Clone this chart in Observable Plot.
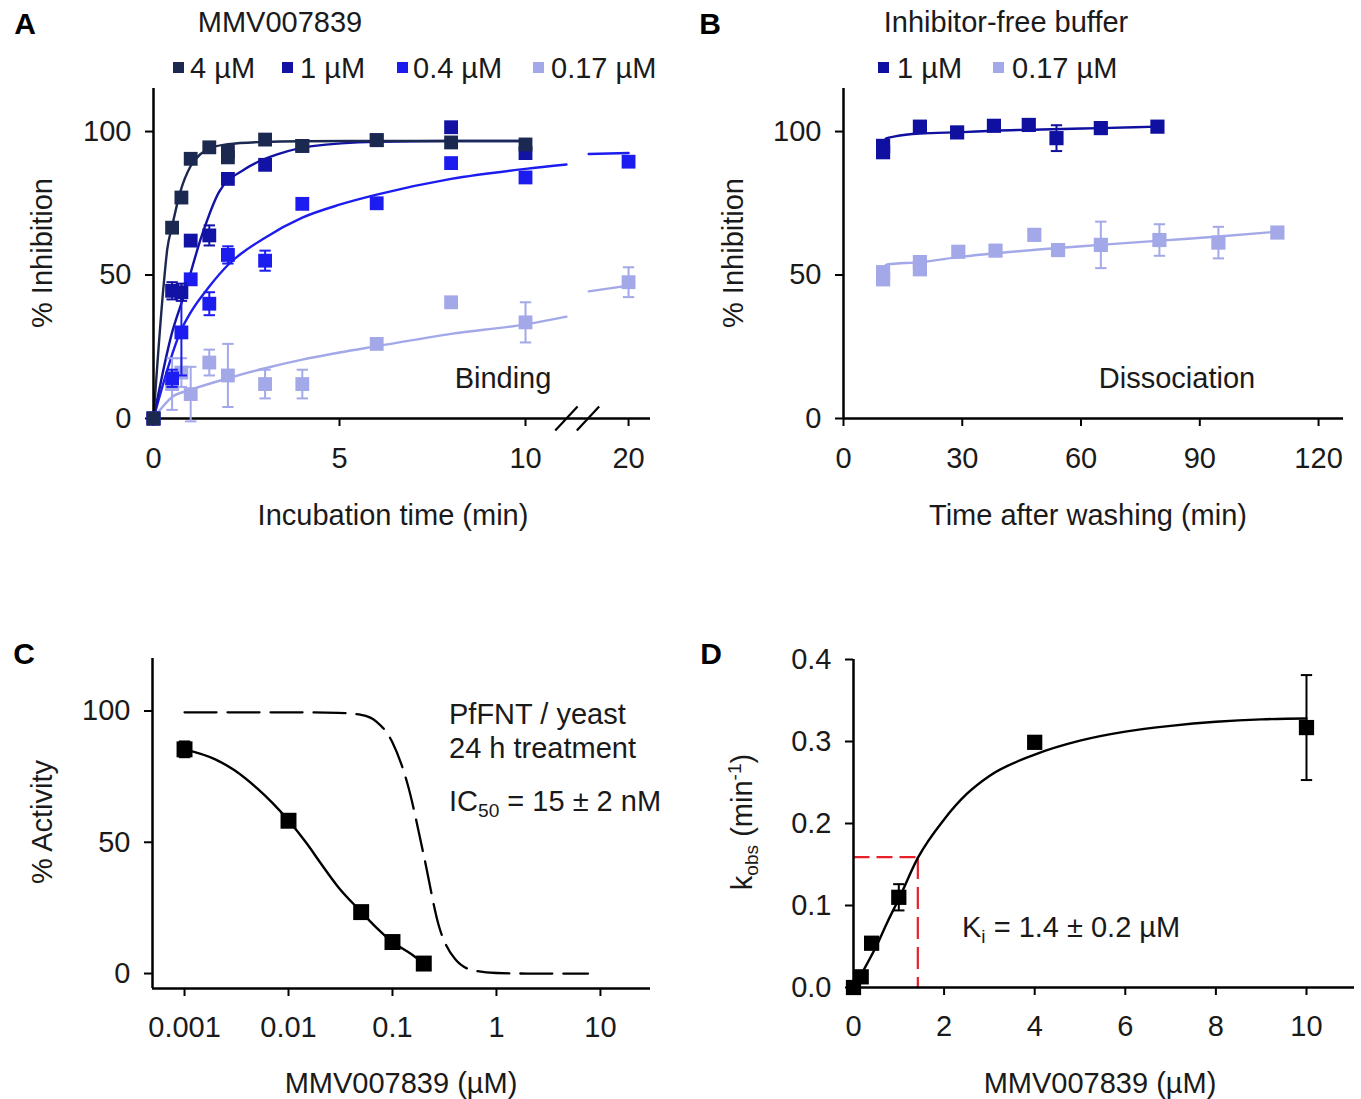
<!DOCTYPE html>
<html>
<head>
<meta charset="utf-8">
<script src="https://cdn.jsdelivr.net/npm/d3@7"></script>
<script src="https://cdn.jsdelivr.net/npm/@observablehq/plot@0.6"></script>
<style>
  body { margin: 0; background: #fff; }
  #page { position: relative; width: 1361px; height: 1099px; overflow: hidden;
          font-family: "Liberation Sans", Arial, sans-serif; color: #1a1a1a; background: #fff; }
  .panel { position: absolute; }
  .panel svg { overflow: visible; max-width: none; background: transparent; }
  .panel svg g[aria-label*="axis"] path, .panel svg g[aria-label*="axis"] line { stroke: #000; stroke-width: 2px; }
  .t, .tl { position: absolute; white-space: nowrap; font-size: 29px; line-height: 1; }
  .t { transform: translate(-50%, -50%); }
  .tl { transform: translate(0, -50%); }
  .rot { transform: translate(-50%, -50%) rotate(-90deg); }
  .letter { font-weight: bold; font-size: 30px; color: #000; }
  .sq { position: absolute; width: 11px; height: 11px; }
  sub, sup { font-size: 0.66em; line-height: 0; }
  sub { vertical-align: -0.32em; }
  sup { vertical-align: 0.55em; }
</style>
</head>
<body>
<div id="page"></div>
<script>
// ---------------- DATA ----------------
// Panel A: binding kinetics (time in min, % inhibition)
const seriesA = ["4 µM", "1 µM", "0.4 µM", "0.17 µM"];
const colorsA = ["#1b2850", "#1212a4", "#1c1cf0", "#a3a8e8"];

const tA4   = [0, 0.5, 0.75, 1, 1.5, 2, 2, 3, 4, 6, 8, 10];
const yA4   = [0, 66.5, 77, 90.5, 94.5, 93, 91, 97.2, 95, 97, 96.2, 95.5];
const eA4   = [0, 0, 0, 0, 0, 0, 0, 0, 0, 0, 0, 0];
const tA1   = [0, 0.5, 0.75, 1, 1.5, 2, 3, 4, 6, 8, 10];
const yA1   = [0, 44.5, 44, 62, 63.8, 83.5, 88.4, 95, 97, 101.5, 92.5];
const eA1   = [0, 3, 3, 0, 3.5, 0, 0, 0, 0, 0, 0];
const tA04  = [0, 0.5, 0.75, 1, 1.5, 2, 3, 4, 6, 8, 10, 20];
const yA04  = [0, 14, 30, 48.5, 40, 57, 55, 74.8, 75, 89, 84, 89.5];
const eA04  = [0, 3, 15, 0, 4, 3, 3.5, 0, 0, 0, 0, 0];
const tA017 = [0, 0.5, 0.75, 1, 1.5, 2, 3, 4, 6, 8, 10, 20];
const yA017 = [0, 12, 16, 8.5, 19.5, 15, 12, 12, 26, 40.5, 33.5, 47.5];
const eA017 = [0, 9, 5, 9.5, 4.5, 11, 5, 5, 0, 0, 7, 5.2];

// fitted curves (before and after the axis break)
const ctA4   = [0, 0.28, 0.37, 0.5, 0.72, 1, 1.25, 1.5, 2, 3, 4, 6, 10];
const cyA4   = [0, 47.5, 59, 67, 79, 88, 92, 94, 95.6, 96.4, 96.6, 96.7, 96.7];
const ctA1   = [0, 0.5, 0.82, 1.3, 1.76, 2.47, 3.37, 4.27, 6, 8, 10];
const cyA1   = [0, 30, 42.9, 63.8, 78.9, 87, 92.2, 94.9, 96.4, 96.7, 96.7];
const ctA04  = [0, 0.75, 1, 1.5, 2, 3, 4, 5, 6, 8, 10, 11.1];
const cyA04  = [0, 31, 37, 46, 53.5, 63, 70, 74.5, 78, 83.5, 87, 88.5];
const ctA04b = [17, 20];
const cyA04b = [92.2, 92.5];
const ctA017  = [0, 0.5, 1, 2, 3, 4, 5, 6, 8, 10, 11.1];
const cyA017  = [0, 7.5, 10, 14, 17.5, 20.5, 23, 25.2, 29.5, 32.8, 35.5];
const ctA017b = [17, 20];
const cyA017b = [44.3, 46.3];
const xTicksA = [0, 5, 10, 20];
const yTicksA = [0, 50, 100];

// Panel B: dissociation (time after washing in min, % inhibition)
const seriesB = ["1 µM", "0.17 µM"];
const colorsB = ["#1010a0", "#a3a8e8"];
const tB1   = [10, 10, 19.3, 28.7, 38, 46.8, 53.8, 65, 79.3];
const yB1   = [95, 92.8, 101.7, 99.7, 102, 102.3, 97.7, 101.2, 101.7];
const eB1   = [0, 0, 0, 0, 0, 0, 4.5, 0, 0];
const tB017 = [10, 10, 19.3, 19.3, 29, 38.4, 48.2, 54.2, 65, 79.8, 94.7, 109.6];
const yB017 = [51, 48.5, 54.5, 52, 58.1, 58.5, 64, 58.7, 60.5, 62.2, 61.3, 64.8];
const eB017 = [0, 0, 0, 0, 0, 0, 0, 0, 8.1, 5.5, 5.5, 0];
const ctB1   = [10, 10.8, 13, 19.3, 30, 38, 50, 65, 79.3];
const cyB1   = [95.5, 97.6, 98.3, 99.3, 99.8, 100.3, 100.7, 101.2, 101.7];
const ctB017 = [10, 11, 19.3, 30, 38.4, 50, 65, 80, 94.7, 109.6];
const cyB017 = [52.3, 53.7, 54.5, 56.4, 57.6, 59, 60.5, 62, 63.4, 65.1];
const xTicksB = [0, 30, 60, 90, 120];
const yTicksB = [0, 50, 100];

// Panel C: dose response (µM, % activity)
const xC    = [0.001, 0.01, 0.05, 0.1, 0.2];
const yC    = [85.4, 58.2, 23.4, 12, 3.8];
const eC    = [3, 0, 0, 0, 0];
const cxC   = [0.001, 0.002, 0.003, 0.005, 0.007, 0.01, 0.015, 0.02, 0.03, 0.05, 0.07, 0.1, 0.15, 0.2];
const cyC   = [85.4, 81.5, 77.5, 70.5, 65, 58.3, 49.5, 42.5, 33, 23.5, 17.5, 12, 7.5, 3.8];
const dxC   = [0.001, 0.01, 0.03, 0.05, 0.07, 0.1, 0.14, 0.2, 0.28, 0.4, 0.6, 1, 2, 7.6];
const dyC   = [99.5, 99.5, 99.3, 98.5, 96, 88, 72, 45, 18, 5.5, 1.2, 0.2, 0, 0];
const xTicksC = [0.001, 0.01, 0.1, 1, 10];
const yTicksC = [0, 50, 100];

// Panel D: kobs vs concentration
const xD    = [0, 0.17, 0.4, 1, 4, 10];
const yD    = [0, 0.013, 0.054, 0.110, 0.299, 0.317];
const eD    = [0, 0, 0, 0.016, 0, 0.064];
const cxD   = [0, 0.25, 0.5, 0.75, 1, 1.42, 2, 2.5, 3, 4, 5, 6, 7, 8, 9, 10];
const cyD   = [0, 0.024, 0.05, 0.08, 0.108, 0.158, 0.205, 0.236, 0.258, 0.284, 0.301, 0.312, 0.319, 0.324, 0.327, 0.328];
const kiD   = [1.42];
const halfD = [0.159];
const xTicksD = [0, 2, 4, 6, 8, 10];
const yTicksD = [0, 0.1, 0.2, 0.3, 0.4];

// ---------------- HELPERS ----------------
const FONT = '"Liberation Sans", Arial, sans-serif';
const baseStyle = { fontSize: "29px", fontFamily: FONT, color: "#1a1a1a", background: "transparent" };
const page = document.getElementById("page");

function rows(xs, ys, es) { return xs.map((x, i) => ({ x, y: ys[i], e: es ? es[i] : 0 })); }
const capSymbol = { draw(ctx, size) { const w = Math.sqrt(size); ctx.moveTo(-w, 0); ctx.lineTo(w, 0); } };

function errorMarks(data, xf, color, w) {
  const withErr = data.filter(d => d.e > 0);
  return [
    Plot.ruleX(withErr, { x: xf, y1: d => d.y - d.e, y2: d => d.y + d.e, stroke: color, strokeWidth: w }),
    Plot.dot(withErr, { x: xf, y: d => d.y - d.e, symbol: capSymbol, r: 3.2, stroke: color, strokeWidth: w, fill: "none" }),
    Plot.dot(withErr, { x: xf, y: d => d.y + d.e, symbol: capSymbol, r: 3.2, stroke: color, strokeWidth: w, fill: "none" })
  ];
}
function place(node, left, top) {
  const div = document.createElement("div");
  div.className = "panel";
  div.style.left = left + "px"; div.style.top = top + "px";
  div.appendChild(node); page.appendChild(div);
}
function text(html, x, y, cls) {
  const d = document.createElement("div");
  d.className = cls; d.innerHTML = html;
  d.style.left = x + "px"; d.style.top = y + "px";
  page.appendChild(d);
}
function square(x, y, color) {
  const d = document.createElement("div");
  d.className = "sq"; d.style.left = x + "px"; d.style.top = y + "px"; d.style.background = color;
  page.appendChild(d);
}

// ---------------- PANEL A ----------------
const posA = t => (t <= 12 ? t : 12.77 - (20 - t) * 0.357);
const xDomA = [0, 13.36], yDomA = [0, 115];
const breakPos = [11.1, 11.68];
const ptsA = [rows(tA4, yA4, eA4), rows(tA1, yA1, eA1), rows(tA04, yA04, eA04), rows(tA017, yA017, eA017)];
const curvesA = [
  [rows(ctA4, cyA4)], [rows(ctA1, cyA1)],
  [rows(ctA04, cyA04), rows(ctA04b, cyA04b)],
  [rows(ctA017, cyA017), rows(ctA017b, cyA017b)]
];
const fx = d => posA(d.x);
const marksA = [];
[3, 2, 1, 0].forEach(i => {
  curvesA[i].forEach(seg => marksA.push(Plot.line(seg, { x: fx, y: "y", stroke: colorsA[i], strokeWidth: 2.4, curve: "monotone-x" })));
});
marksA.push(Plot.ruleX([xDomA[0]], { y1: yDomA[0], y2: yDomA[1], stroke: "#000", strokeWidth: 2.5 }));
marksA.push(Plot.ruleY([yDomA[0]], { x1: xDomA[0], x2: xDomA[1], stroke: "#000", strokeWidth: 2.5 }));
marksA.push(Plot.link(breakPos, { x1: d => d - 0.3, x2: d => d + 0.3, y1: -4.2, y2: 4.2, stroke: "#000", strokeWidth: 2.2 }));
[3, 2, 1, 0].forEach(i => {
  marksA.push(...errorMarks(ptsA[i], fx, colorsA[i], 2));
  marksA.push(Plot.dot(ptsA[i], { x: fx, y: "y", symbol: "square", r: 7.8, fill: colorsA[i] }));
});
const plotA = Plot.plot({
  width: 680, height: 400, marginLeft: 153, marginRight: 30, marginTop: 8, marginBottom: 62,
  style: baseStyle,
  x: { domain: xDomA, ticks: xTicksA.map(posA), tickFormat: d => String(xTicksA[xTicksA.map(posA).indexOf(d)]), tickSize: 8, tickPadding: 21, label: null },
  y: { domain: yDomA, ticks: yTicksA, tickSize: 8, tickPadding: 14, label: null },
  marks: marksA
});
place(plotA, 0, 80);

// ---------------- PANEL B ----------------
const xDomB = [0, 126.3], yDomB = [0, 115];
const ptsB = [rows(tB1, yB1, eB1), rows(tB017, yB017, eB017)];
const curvesB = [rows(ctB1, cyB1), rows(ctB017, cyB017)];
const marksB = [];
[1, 0].forEach(i => marksB.push(Plot.line(curvesB[i], { x: "x", y: "y", stroke: colorsB[i], strokeWidth: 2.4, curve: "monotone-x" })));
marksB.push(Plot.ruleX([xDomB[0]], { y1: yDomB[0], y2: yDomB[1], stroke: "#000", strokeWidth: 2.5 }));
marksB.push(Plot.ruleY([yDomB[0]], { x1: xDomB[0], x2: xDomB[1], stroke: "#000", strokeWidth: 2.5 }));
[1, 0].forEach(i => {
  marksB.push(...errorMarks(ptsB[i], "x", colorsB[i], 2));
  marksB.push(Plot.dot(ptsB[i], { x: "x", y: "y", symbol: "square", r: 8, fill: colorsB[i] }));
});
const plotB = Plot.plot({
  width: 671, height: 400, marginLeft: 153, marginRight: 18, marginTop: 8, marginBottom: 62,
  style: baseStyle,
  x: { domain: xDomB, ticks: xTicksB, tickSize: 8, tickPadding: 21, label: null },
  y: { domain: yDomB, ticks: yTicksB, tickSize: 8, tickPadding: 14, label: null },
  marks: marksB
});
place(plotB, 690, 80);

// ---------------- PANEL C ----------------
const xDomC = [0.000492, 30.3], yDomC = [-5.7, 120];
const ptsC = rows(xC, yC, eC);
const plotC = Plot.plot({
  width: 680, height: 400, marginLeft: 152, marginRight: 30, marginTop: 8, marginBottom: 62,
  style: baseStyle,
  x: { type: "log", domain: xDomC, ticks: xTicksC, tickFormat: d => String(d), tickSize: 8, tickPadding: 20, label: null },
  y: { domain: yDomC, ticks: yTicksC, tickSize: 8, tickPadding: 14, label: null },
  marks: [
    Plot.line(rows(dxC, dyC), { x: "x", y: "y", stroke: "#000", strokeWidth: 2.3, strokeDasharray: "32,11", curve: "monotone-x" }),
    Plot.line(rows(cxC, cyC), { x: "x", y: "y", stroke: "#000", strokeWidth: 2.4, curve: "monotone-x" }),
    Plot.ruleX([xDomC[0]], { y1: yDomC[0], y2: yDomC[1], stroke: "#000", strokeWidth: 2.5 }),
    Plot.ruleY([yDomC[0]], { x1: xDomC[0], x2: xDomC[1], stroke: "#000", strokeWidth: 2.5 }),
    ...errorMarks(ptsC, "x", "#000", 2),
    Plot.dot(ptsC, { x: "x", y: "y", symbol: "square", r: 9, fill: "#000" })
  ]
});
place(plotC, 0, 650);

// ---------------- PANEL D ----------------
const xDomD = [0, 11.06], yDomD = [0, 0.4];
const ptsD = rows(xD, yD, eD);
const plotD = Plot.plot({
  width: 671, height: 400, marginLeft: 163, marginRight: 7, marginTop: 9, marginBottom: 63,
  style: baseStyle,
  x: { domain: xDomD, ticks: xTicksD, tickSize: 8, tickPadding: 20, label: null },
  y: { domain: yDomD, ticks: yTicksD, tickFormat: d3.format(".1f"), tickSize: 8, tickPadding: 14, label: null },
  marks: [
    Plot.link(kiD, { x1: 0, x2: d => d, y1: halfD[0], y2: halfD[0], stroke: "#e8202a", strokeWidth: 2.2, strokeDasharray: "16,7" }),
    Plot.link(kiD, { x1: d => d, x2: d => d, y1: halfD[0], y2: 0, stroke: "#e8202a", strokeWidth: 2.2, strokeDasharray: "22,8" }),
    Plot.line(rows(cxD, cyD), { x: "x", y: "y", stroke: "#000", strokeWidth: 2.4, curve: "monotone-x" }),
    Plot.ruleX([xDomD[0]], { y1: yDomD[0], y2: yDomD[1], stroke: "#000", strokeWidth: 2.5 }),
    Plot.ruleY([yDomD[0]], { x1: xDomD[0], x2: xDomD[1], stroke: "#000", strokeWidth: 2.5 }),
    ...errorMarks(ptsD, "x", "#000", 2),
    Plot.dot(ptsD, { x: "x", y: "y", symbol: "square", r: 8.6, fill: "#000" })
  ]
});
place(plotD, 690, 650);

// ---------------- TEXT ----------------
text("A", 25, 24, "t letter");
text("B", 710, 24, "t letter");
text("C", 24, 654, "t letter");
text("D", 711, 654, "t letter");

text("MMV007839", 280, 22, "t");
text("Inhibitor-free buffer", 1006, 22, "t");

const legAx = [173, 282, 397, 533], legAtx = [190, 300, 413, 551];
seriesA.forEach((s, i) => { square(legAx[i], 62, colorsA[i]); text(s, legAtx[i], 68, "tl"); });
const legBx = [878, 993], legBtx = [897, 1012];
seriesB.forEach((s, i) => { square(legBx[i], 62, colorsB[i]); text(s, legBtx[i], 68, "tl"); });

text("% Inhibition", 42, 253, "t rot");
text("% Inhibition", 733, 253, "t rot");
text("% Activity", 42, 822, "t rot");
text("k<sub>obs</sub> (min<sup>-1</sup>)", 742, 822, "t rot");

text("Incubation time (min)", 393, 515, "t");
text("Time after washing (min)", 1088, 515, "t");
text("MMV007839 (µM)", 401, 1083, "t");
text("MMV007839 (µM)", 1100, 1083, "t");

text("Binding", 503, 378, "t");
text("Dissociation", 1177, 378, "t");
text("PfFNT / yeast", 449, 714, "tl");
text("24 h treatment", 449, 748, "tl");
text("IC<sub>50</sub> = 15 ± 2 nM", 449, 801, "tl");
text("K<sub>i</sub> = 1.4 ± 0.2 µM", 962, 927, "tl");
</script>
</body>
</html>
